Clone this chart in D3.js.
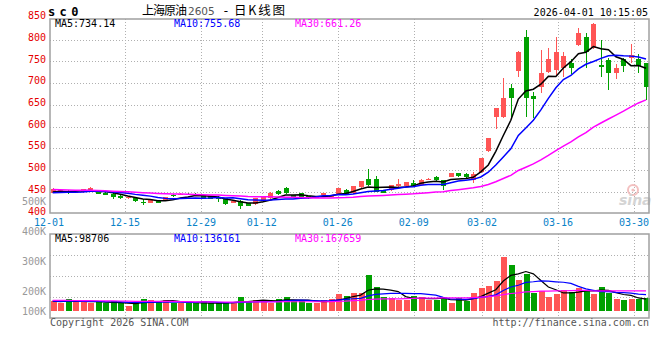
<!DOCTYPE html>
<html><head><meta charset="utf-8">
<script src="https://cdn.jsdelivr.net/npm/d3@7"></script>
<style>body{margin:0;background:#fff}svg{display:block}</style>
</head><body><svg id="c" width="660" height="360"></svg>
<script>
// ---------- data ----------
const dates = ["12-01","12-02","12-03","12-04","12-05","12-08","12-09","12-10","12-11","12-12",
"12-15","12-16","12-17","12-18","12-19","12-22","12-23","12-24","12-25","12-26",
"12-29","12-30","12-31","01-05","01-06","01-07","01-08","01-09",
"01-12","01-13","01-14","01-15","01-16","01-19","01-20","01-21","01-22","01-23",
"01-26","01-27","01-28","01-29","01-30","02-02","02-03","02-04","02-05","02-06",
"02-09","02-10","02-11","02-12","02-13","02-24","02-25","02-26","02-27",
"03-02","03-03","03-04","03-05","03-06","03-09","03-10","03-11","03-12","03-13",
"03-16","03-17","03-18","03-19","03-20","03-23","03-24","03-25","03-26","03-27",
"03-30","03-31","04-01"];
const opens = [447,450,451,448,449,452.5,451,448,445,440,
435,435.5,427,425,431,431,443,443.5,445,445,
442,440,437,435,426,429,424,421,
429,435,452,458,442,446,439,436,443,438,
445,453,446,460,479,479,453,454,462.5,462.5,
469,466,477,484,476,484,493,490,476,
496,544,623,622,688,729,807,670,690,726,
730,734,747,788,807,780,742,753,724,755,
759,755,746];
const highs = [459,456,453,451,457,460,453,449,446,443,
440,437,432.5,432,432,438,444,446,446,448,
443,441,441,436,430,430,425,436,
438,449,455,461,443,448,440,440,448,443,
459,456,463,475,502,486,455,466,479,473,
476,479,481,485,477,494,494,492,496,
528,574,643,711,698,774,822,680,776,780,
807,772,755,826,815,839,799,757,744,757,
790,767,747];
const lows = [446,448,445,446,448,451,444,442,434,432.5,
434,427,420,424,424,430,438,442,442.5,441,
433,433,427,419,424,410,416,420,
428,434,443,444,436,436,434,435,442,437,
444,442,445,459,462,449,447,452,460,461,
460,465,476,475,455,483,484,481,471,
494,542,594,620,622,715,623,620,677,724,
716,715,721,786,734,778,715,684,710,726,
746,724,661];
const closes = [456,454,446,450,455.5,458.5,445,443,437,437,
438,428,425,431,425,437,439,445,443.5,442,
434,434,435,421,428.5,416,418,435,
437,448,445,446,437,438,436,439,446,442,
458,445,462,474,466,450,448,465,468.5,471.5,
464,478,479.5,476,464,493,485,483,490,
527,573,642,665,665,772,665,663,723,755,
771,762,736,815,772,836,738,724,734,740,
765,740,692];
const volumes = [83000,66000,98000,80000,72000,66000,78000,61000,78000,61000,
40000,61000,98000,89000,83000,89000,66000,61000,61000,61000,
80000,61000,61000,61000,75000,117000,75000,89000,
89000,61000,100000,117000,89000,80000,61000,66000,89000,98000,
140000,123000,152000,152000,303000,200000,115000,106000,89000,89000,
129000,115000,89000,89000,109000,63000,106000,83000,152000,
194000,212000,254000,455000,392000,260000,313000,155000,166000,117000,
143000,175000,158000,195000,177000,140000,205000,152000,96000,95000,
102000,96000,104500];
// estimated sessions before 12-01 (needed for the moving averages at the left edge)
const priorCloses = [462,465,468,463,460,458,461,464,459,455,457,460,456,452,455,458,454,451,453,456,
448,445,449,446,443,447,450,446,448];
const priorVolumes = [95000,102000,88000,91000,99000,86000,93000,97000,84000,90000,96000,88000,92000,85000,94000,
89000,91000,87000,93000,90000,82000,78000,85000,80000,76000,84000,79000,81000,77000];

const priceTicks = [400,450,500,550,600,650,700,750,800,850];
const volTicks = [500000,400000,300000,200000,100000];
const volTickLabels = ["500K","400K","300K","200K","100K"];
const dateTicks = ["12-01","12-15","12-29","01-12","01-26","02-09","03-02","03-16","03-30"];
const maPeriods = [5,10,30];
const maColors = ["#000000","#0000ff","#ff00ff"];
const priceMaText = ["MA5:734.14","MA10:755.68","MA30:661.26"];
const volMaText = ["MA5:98706","MA10:136161","MA30:167659"];

// ---------- layout ----------
const svg = d3.select('#c');
const L = 50, R = 649, pTop = 19, pBot = 213, vTop = 234, vBot = 318;
const mono = "'DejaVu Sans Mono','Liberation Mono',monospace";
const UP = "#ff5555", DOWN = "#00a000";

const x = d3.scaleLinear().domain([0, dates.length - 1]).range([52.7, 646]);
const xg = d3.scaleLinear().domain([10, 77]).range([125, 634]);
const y = d3.scaleLinear().domain([400, 850]).range([213.4, 18]);
const yv = d3.scaleLinear().domain([0, 650000]).range([310.6, 234.7]);
const yvLab = d3.scaleLinear().domain([200000, 500000]).range([291, 201]);

function movingAvg(prior, vals, n) {
  const all = prior.concat(vals), off = prior.length;
  return vals.map((v, i) => d3.mean(all.slice(off + i - n + 1, off + i + 1)));
}

// ---------- grid ----------
const grid = svg.append('g').attr('stroke', '#b0b0b0').attr('stroke-dasharray', '1,2').attr('shape-rendering', 'crispEdges');
grid.selectAll('.hp').data(priceTicks.filter(t => t > 400 && t < 850)).join('line')
  .attr('x1', L).attr('x2', R)
  .attr('y1', d => Math.round(y(d)) + 0.5).attr('y2', d => Math.round(y(d)) + 0.5);
const vq = d3.scaleLinear().domain([0, 4]).range([vTop, vBot]);
grid.selectAll('.hv').data([1, 2, 3]).join('line')
  .attr('x1', L).attr('x2', R)
  .attr('y1', d => Math.round(vq(d)) + 0.5).attr('y2', d => Math.round(vq(d)) + 0.5);
const vx = dateTicks.slice(1).map(t => Math.round(xg(dates.indexOf(t))) + 0.5);
grid.selectAll('.vp').data(vx).join('line')
  .attr('x1', d => d).attr('x2', d => d).attr('y1', pTop).attr('y2', pBot);
grid.selectAll('.vv').data(vx).join('line')
  .attr('x1', d => d).attr('x2', d => d).attr('y1', vTop).attr('y2', vBot);

// ---------- watermark ----------
const wm = svg.append('g');
wm.append('circle').attr('cx', 633).attr('cy', 190).attr('r', 5)
  .attr('fill', 'none').attr('stroke', '#f3c0c0').attr('stroke-width', 2);
wm.append('circle').attr('cx', 633).attr('cy', 190).attr('r', 1.6).attr('fill', '#f3c0c0');
wm.append('text').attr('x', 619).attr('y', 205).text('sina')
  .attr('font-family', "'DejaVu Sans',sans-serif").attr('font-style', 'italic').attr('font-weight', 'bold')
  .attr('font-size', 14).attr('fill', '#d4d4d4');

// ---------- candles ----------
const cg = svg.append('g').attr('shape-rendering', 'crispEdges');
const idx = d3.range(dates.length);
const col = i => closes[i] >= opens[i] ? UP : DOWN;
cg.selectAll('.wick').data(idx).join('line')
  .attr('x1', i => Math.round(x(i)) + 0.5).attr('x2', i => Math.round(x(i)) + 0.5)
  .attr('y1', i => y(highs[i])).attr('y2', i => y(lows[i]))
  .attr('stroke', col);
cg.selectAll('.body').data(idx).join('rect')
  .attr('x', i => Math.round(x(i)) - 2).attr('width', 5)
  .attr('y', i => y(Math.max(opens[i], closes[i])))
  .attr('height', i => Math.max(1.5, Math.abs(y(opens[i]) - y(closes[i]))))
  .attr('fill', col);

// ---------- price MAs ----------
const line = d3.line().x((d, i) => x(i)).y(d => y(d));
maPeriods.forEach((n, k) => {
  svg.append('path').datum(movingAvg(priorCloses, closes, n))
    .attr('d', line).attr('fill', 'none').attr('stroke', maColors[k]).attr('stroke-width', 1.5);
});

// ---------- volume ----------
const vg = svg.append('g').attr('shape-rendering', 'crispEdges');
vg.selectAll('rect').data(idx).join('rect')
  .attr('x', i => Math.round(x(i)) - 2.5).attr('width', 6)
  .attr('y', i => yv(volumes[i])).attr('height', i => yv(0) - yv(volumes[i]))
  .attr('fill', col);
const vline = d3.line().x((d, i) => x(i)).y(d => yv(d));
maPeriods.forEach((n, k) => {
  svg.append('path').datum(movingAvg(priorVolumes, volumes, n))
    .attr('d', vline).attr('fill', 'none').attr('stroke', maColors[k]).attr('stroke-width', 1.2);
});

// ---------- frames ----------
const fr = svg.append('g').attr('fill', 'none').attr('stroke', '#a0a0a0').attr('stroke-width', 1.5);
fr.append('rect').attr('x', L).attr('y', pTop).attr('width', R - L).attr('height', pBot - pTop);
fr.append('rect').attr('x', L).attr('y', vTop).attr('width', R - L).attr('height', vBot - vTop);

// ---------- texts ----------
const T = (xx, yy, s, opt = {}) => svg.append('text').attr('x', xx).attr('y', yy).text(s)
  .attr('font-family', opt.family || mono).attr('font-size', opt.size || 10)
  .attr('fill', opt.fill || '#000').attr('text-anchor', opt.anchor || 'start')
  .attr('font-weight', opt.weight || 'normal');

// price axis labels
svg.append('g').selectAll('text').data(priceTicks).join('text')
  .attr('x', 46).attr('y', d => y(d) + 1.2).text(d => d)
  .attr('text-anchor', 'end').attr('font-family', mono).attr('font-size', 10).attr('fill', '#e60000');
// volume axis labels
svg.append('g').selectAll('text').data(volTicks).join('text')
  .attr('x', 46).attr('y', d => Math.min(yvLab(d), 311) + 3.5).text((d, i) => volTickLabels[i])
  .attr('text-anchor', 'end').attr('font-family', mono).attr('font-size', 10).attr('fill', '#999999');
// date labels
svg.append('g').selectAll('text').data(dateTicks).join('text')
  .attr('x', d => xg(dates.indexOf(d))).attr('y', 225.5).text(d => d)
  .attr('text-anchor', 'middle').attr('font-family', mono).attr('font-size', 10).attr('fill', '#0a82c8');

// header
T(48, 16, 'sc0', {size: 12, weight: 'bold'}).attr('letter-spacing', 4.4);
const cjk = "'Noto Sans CJK SC',sans-serif";
T(142, 15, '上海原油', {family: cjk, size: 12}).attr('textLength', 45).attr('lengthAdjust', 'spacing');
T(188, 15, '2605', {family: "'DejaVu Sans',sans-serif", size: 10.5, fill: '#555'});
T(226, 15, '-', {family: "'DejaVu Sans',sans-serif", size: 12, anchor: 'middle'});
T(234, 15, '日K线图', {family: cjk, size: 12.5}).attr('textLength', 51).attr('lengthAdjust', 'spacing');
T(648, 15.5, '2026-04-01 10:15:05', {anchor: 'end'});

const maX = [55, 174, 295];
priceMaText.forEach((s, k) => T(maX[k], 27.3, s, {fill: maColors[k]}));
volMaText.forEach((s, k) => T(maX[k], 241.6, s, {fill: maColors[k]}));

T(50, 326, 'Copyright 2026 SINA.COM', {fill: '#555'});
T(649, 326, 'http://finance.sina.com.cn', {fill: '#555', anchor: 'end'});
</script>
</body></html>
